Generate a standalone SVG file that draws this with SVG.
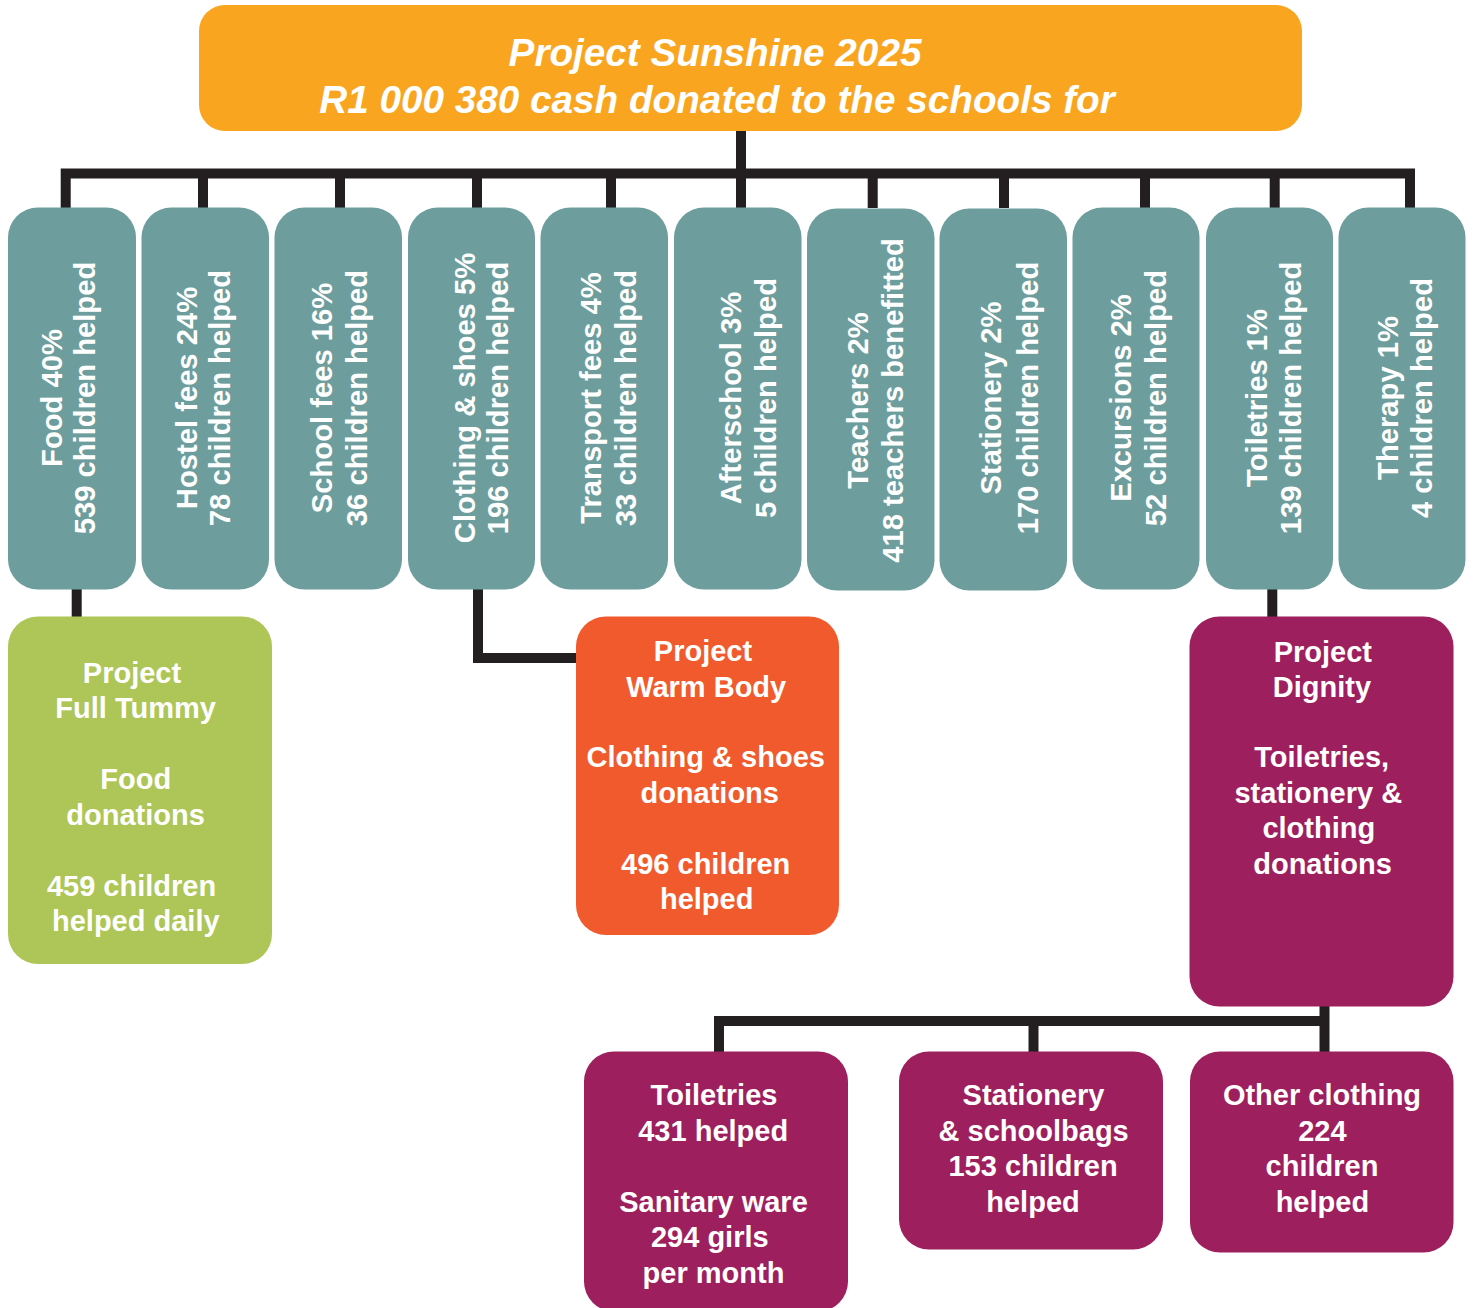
<svg xmlns="http://www.w3.org/2000/svg" width="1474" height="1308" viewBox="0 0 1474 1308">
<style>
text{font-family:"Liberation Sans",Arial,Helvetica,sans-serif;font-weight:bold;fill:#fff;text-anchor:middle}
.hd{font-size:38.7px;font-style:italic}
.v{font-size:29.2px}
.t{font-size:29px}
.teal{fill:#6D9E9D}
.pur{fill:#9E1F5E}
.conn{fill:none;stroke:#231F20;stroke-width:10;stroke-linejoin:miter;stroke-linecap:butt}
</style>
<rect width="1474" height="1308" fill="#fff"/>
<g id="connectors" class="conn">
<path d="M65.7 208V173.5H1410V208"/>
<path d="M203 173.5V208M340 173.5V208M477 173.5V208M611 173.5V208M872.7 173.5V208M1004 173.5V208M1145 173.5V208M1274.7 173.5V208"/>
<path d="M741 131V208"/>
<path d="M76.7 589V617"/>
<path d="M478 589V658H576"/>
<path d="M1272.3 589V617"/>
<path d="M1324.5 1006V1052"/>
<path d="M719 1052V1021H1324.5"/>
<path d="M1033.5 1021V1052"/>
</g>
<g id="header">
<rect x="199" y="5" width="1103" height="126" rx="26" fill="#F9A51F"/>
<text class="hd" x="715" y="65.7">Project Sunshine 2025</text>
<text class="hd" x="717" y="112.7">R1 000 380 cash donated to the schools for</text>
</g>
<g id="food">
<rect class="teal" x="8" y="207.5" width="128" height="382" rx="30"/>
<text class="v" transform="rotate(-90 62 398)" x="62" y="398">Food 40%</text>
<text class="v" transform="rotate(-90 95.3 398)" x="95.3" y="398">539 children helped</text>
</g>
<g id="hostel">
<rect class="teal" x="141.5" y="207.5" width="127.5" height="382" rx="30"/>
<text class="v" transform="rotate(-90 196.7 398)" x="196.7" y="398">Hostel fees 24%</text>
<text class="v" transform="rotate(-90 230.3 398)" x="230.3" y="398">78 children helped</text>
</g>
<g id="school">
<rect class="teal" x="274.5" y="207.5" width="127.5" height="382" rx="30"/>
<text class="v" transform="rotate(-90 331.7 398)" x="331.7" y="398">School fees 16%</text>
<text class="v" transform="rotate(-90 366.5 398)" x="366.5" y="398">36 children helped</text>
</g>
<g id="clothing">
<rect class="teal" x="408" y="207.5" width="127" height="382" rx="30"/>
<text class="v" transform="rotate(-90 474.5 398)" x="474.5" y="398">Clothing &amp; shoes 5%</text>
<text class="v" transform="rotate(-90 508 398)" x="508" y="398">196 children helped</text>
</g>
<g id="transport">
<rect class="teal" x="540.5" y="207.5" width="127.5" height="382" rx="30"/>
<text class="v" transform="rotate(-90 601.3 398)" x="601.3" y="398">Transport fees 4%</text>
<text class="v" transform="rotate(-90 636 398)" x="636" y="398">33 children helped</text>
</g>
<g id="afterschool">
<rect class="teal" x="674" y="207.5" width="127.5" height="382" rx="30"/>
<text class="v" transform="rotate(-90 741 398)" x="741" y="398">Afterschool 3%</text>
<text class="v" transform="rotate(-90 776 398)" x="776" y="398">5 children helped</text>
</g>
<g id="teachers">
<rect class="teal" x="807" y="208.5" width="127.5" height="382" rx="30"/>
<text class="v" transform="rotate(-90 867.7 400.5)" x="867.7" y="400.5">Teachers 2%</text>
<text class="v" transform="rotate(-90 902.7 400.5)" x="902.7" y="400.5">418 teachers benefitted</text>
</g>
<g id="stationery">
<rect class="teal" x="939.5" y="208.5" width="127.5" height="382" rx="30"/>
<text class="v" transform="rotate(-90 1001.3 398)" x="1001.3" y="398">Stationery 2%</text>
<text class="v" transform="rotate(-90 1037.5 398)" x="1037.5" y="398">170 children helped</text>
</g>
<g id="excursions">
<rect class="teal" x="1072.5" y="207.5" width="127" height="382" rx="30"/>
<text class="v" transform="rotate(-90 1130.7 398)" x="1130.7" y="398">Excursions 2%</text>
<text class="v" transform="rotate(-90 1165.7 398)" x="1165.7" y="398">52 children helped</text>
</g>
<g id="toiletries">
<rect class="teal" x="1206" y="207.5" width="127" height="382" rx="30"/>
<text class="v" transform="rotate(-90 1267.3 398)" x="1267.3" y="398">Toiletries 1%</text>
<text class="v" transform="rotate(-90 1300.7 398)" x="1300.7" y="398">139 children helped</text>
</g>
<g id="therapy">
<rect class="teal" x="1338.5" y="207.5" width="127" height="382" rx="30"/>
<text class="v" transform="rotate(-90 1397.5 398)" x="1397.5" y="398">Therapy 1%</text>
<text class="v" transform="rotate(-90 1432 398)" x="1432" y="398">4 children helped</text>
</g>
<g id="full-tummy">
<rect x="8" y="616.5" width="264" height="347.5" rx="30" fill="#ADC657"/>
<text class="t" x="132" y="682.5">Project</text>
<text class="t" x="135.6" y="718">Full Tummy</text>
<text class="t" x="135.8" y="789">Food</text>
<text class="t" x="135.6" y="824.5">donations</text>
<text class="t" x="131.5" y="895.5">459 children</text>
<text class="t" x="135.8" y="931">helped daily</text>
</g>
<g id="warm-body">
<rect x="576" y="616.5" width="263" height="318.5" rx="30" fill="#F15A2D"/>
<text class="t" x="703" y="661">Project</text>
<text class="t" x="706.2" y="696.5">Warm Body</text>
<text class="t" x="705.7" y="767">Clothing &amp; shoes</text>
<text class="t" x="709.7" y="802.5">donations</text>
<text class="t" x="705.7" y="873.5">496 children</text>
<text class="t" x="706.7" y="909">helped</text>
</g>
<g id="dignity">
<rect class="pur" x="1189.5" y="616.5" width="264" height="390" rx="30"/>
<text class="t" x="1322.8" y="661.5">Project</text>
<text class="t" x="1322" y="697">Dignity</text>
<text class="t" x="1321.7" y="767">Toiletries,</text>
<text class="t" x="1318.3" y="802.5">stationery &amp;</text>
<text class="t" x="1318.8" y="838">clothing</text>
<text class="t" x="1322.5" y="873.5">donations</text>
</g>
<g id="toiletries-sanitary">
<rect class="pur" x="584" y="1051.5" width="264" height="260" rx="30"/>
<text class="t" x="714" y="1105">Toiletries</text>
<text class="t" x="713.2" y="1140.5">431 helped</text>
<text class="t" x="713.5" y="1211.5">Sanitary ware</text>
<text class="t" x="709.8" y="1247">294 girls</text>
<text class="t" x="713.5" y="1282.5">per month</text>
</g>
<g id="stationery-bags">
<rect class="pur" x="899" y="1051.5" width="264" height="198" rx="30"/>
<text class="t" x="1033.5" y="1105">Stationery</text>
<text class="t" x="1033.7" y="1140.5">&amp; schoolbags</text>
<text class="t" x="1033.1" y="1176">153 children</text>
<text class="t" x="1033" y="1211.5">helped</text>
</g>
<g id="other-clothing">
<rect class="pur" x="1190" y="1051.5" width="263.5" height="201" rx="30"/>
<text class="t" x="1322" y="1105">Other clothing</text>
<text class="t" x="1322.4" y="1140.5">224</text>
<text class="t" x="1322" y="1176">children</text>
<text class="t" x="1322.4" y="1211.5">helped</text>
</g>
</svg>
